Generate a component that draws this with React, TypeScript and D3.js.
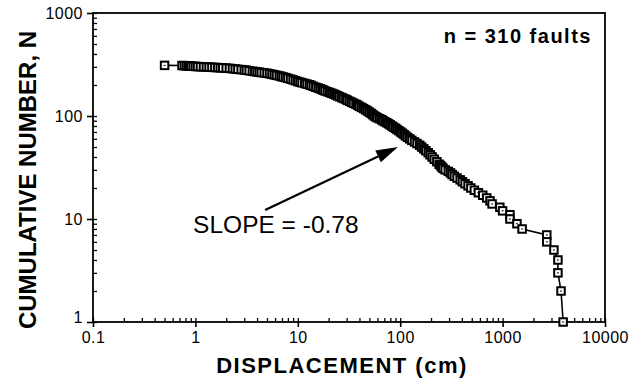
import * as d3 from "d3";
import { useEffect, useRef } from "react";

// cumulative frequency of fault displacement
const displacement = [
  0.5, 0.74, 0.78, 0.82, 0.86, 0.9, 0.95, 1.0, 1.05, 1.12, 1.2, 1.28, 1.36,
  1.45, 1.55, 1.65, 1.75, 1.85, 2.0, 2.15, 2.3, 2.45, 2.6, 2.8, 3.0, 3.15,
  3.35, 3.6, 3.8, 4.0, 4.2, 4.4, 4.7, 5.0, 5.3, 5.6, 5.9, 6.2, 6.6, 6.9, 7.2,
  7.6, 8.0, 8.5, 9.0, 9.5, 10, 10.5, 11, 11.7, 12.3, 13, 13.5, 14.2, 15, 15.8,
  16.5, 17.2, 17.8, 18.5, 19.5, 20.5, 21.5, 22.5, 23.5, 24.5, 25.5, 26.8, 28,
  29.5, 30.5, 32, 33.5, 35, 37, 38.5, 40, 42, 44, 46, 48, 50, 52, 54, 56, 58,
  60, 63, 66, 68, 71, 74, 77, 80, 83, 86, 90, 93, 97, 101, 105, 109, 113, 118,
  124, 130, 138, 146, 155, 162, 170, 178, 188, 196, 205, 215, 228, 240, 248,
  255, 262, 275, 295, 310, 322, 338, 359, 385, 405, 430, 460, 490, 530, 580,
  640, 700, 754, 790, 940, 1000, 1180, 1180, 1380, 1550, 2700, 2700, 3170,
  3470, 3470, 3720, 3900,
];
const cumulative = [
  310, 309, 308, 307, 306, 305, 304, 303, 302, 301, 300, 299, 298, 297, 296,
  295, 294, 293, 292, 290, 288, 286, 284, 282, 280, 278, 275, 272, 270, 268,
  266, 264, 262, 260, 257, 254, 251, 248, 245, 242, 239, 236, 232, 228, 224,
  220, 216, 213, 210, 207, 204, 201, 198, 194, 190, 187, 184, 181, 178, 175,
  172, 169, 166, 163, 160, 157, 154, 151, 148, 145, 142, 139, 136, 133, 130,
  127, 124, 121, 118, 115, 112, 109, 106, 103, 100, 98, 96, 94, 92, 90, 88, 86,
  84, 82, 80, 78, 76, 74, 72, 70, 68, 66, 64, 62, 60, 58, 56, 54, 52, 50, 48,
  46, 44, 42, 40, 38, 36, 34, 33, 32, 31, 30, 29, 28, 27, 26, 25, 24, 23, 22,
  21, 20, 19, 18, 17, 16, 15, 14, 13, 12, 11, 10, 9, 8, 7, 6, 5, 4, 3, 2, 1,
];

const xTicks = [0.1, 1, 10, 100, 1000, 10000];
const xTickLabels = ["0.1", "1", "10", "100", "1000", "10000"];
const yTicks = [1, 10, 100, 1000];
const yTickLabels = ["1", "10", "100", "1000"];

const xTitle = "DISPLACEMENT (cm)";
const yTitle = "CUMULATIVE NUMBER, N";
const countLabel = "n = 310 faults";
const slopeLabel = "SLOPE = -0.78";
// annotation anchors in data units [displacement, N]
const countAt = [7460, 512];
const slopeAt = [0.95, 7.3];
const arrowFrom = [4.8, 12.2];
const arrowTo = [95, 50];

const FONT = "'Liberation Sans', Arial, Helvetica, sans-serif";

export default function App() {
  const svgRef = useRef(null);

  useEffect(() => {
    const W = 639,
      H = 383;
    const margin = { top: 13, right: 34, bottom: 61, left: 93 },
      width = W - margin.left - margin.right,
      height = H - margin.top - margin.bottom;

    const svg = d3.select(svgRef.current).attr("width", W).attr("height", H);
    svg.selectAll("*").remove();

    const g = svg
      .append("g")
      .attr("transform", `translate(${margin.left},${margin.top})`);

    const x = d3.scaleLog().domain([0.1, 10000]).range([0, width]);
    const y = d3.scaleLog().domain([1, 1000]).range([height, 0]);

    const minorX = [];
    for (let e = -1; e < 4; e++)
      for (let k = 1; k < 10; k++) minorX.push(k * Math.pow(10, e));
    minorX.push(10000);
    const minorY = [];
    for (let e = 0; e < 3; e++)
      for (let k = 1; k < 10; k++) minorY.push(k * Math.pow(10, e));
    minorY.push(1000);

    // minor ticks (inside)
    g.append("g")
      .attr("transform", `translate(0,${height})`)
      .call(d3.axisBottom(x).tickValues(minorX).tickSize(-4).tickFormat(() => ""))
      .call((s) => s.select(".domain").remove())
      .selectAll("line")
      .attr("stroke-width", 1.3);
    g.append("g")
      .call(d3.axisLeft(y).tickValues(minorY).tickSize(-4).tickFormat(() => ""))
      .call((s) => s.select(".domain").remove())
      .selectAll("line")
      .attr("stroke-width", 1.3);

    // major ticks (outside) with labels
    const xa = g
      .append("g")
      .attr("transform", `translate(0,${height})`)
      .call(
        d3
          .axisBottom(x)
          .tickValues(xTicks)
          .tickSize(5)
          .tickPadding(5)
          .tickFormat((d, i) => xTickLabels[i])
      );
    xa.select(".domain").remove();
    xa.selectAll("line").attr("stroke-width", 1.6);
    xa.selectAll("text")
      .attr("font-family", FONT)
      .attr("font-size", 16)
      .attr("letter-spacing", 0.5)
      .attr("fill", "#000");

    const ya = g.append("g").call(
      d3
        .axisLeft(y)
        .tickValues(yTicks)
        .tickSize(6)
        .tickPadding(4)
        .tickFormat((d, i) => yTickLabels[i])
    );
    ya.select(".domain").remove();
    ya.selectAll("line").attr("stroke-width", 1.6);
    ya.selectAll("text")
      .attr("font-family", FONT)
      .attr("font-size", 16)
      .attr("letter-spacing", 0.5)
      .attr("fill", "#000")
      .attr("dy", (d) => (d === 1 ? "0.05em" : "0.32em"));

    // frame
    g.append("rect")
      .attr("width", width)
      .attr("height", height)
      .attr("fill", "none")
      .attr("stroke", "#000")
      .attr("stroke-width", 1.8);

    // data
    const pts = displacement.map((d, i) => [d, cumulative[i]]);
    g.append("path")
      .datum(pts)
      .attr("fill", "none")
      .attr("stroke", "#000")
      .attr("stroke-width", 1.6)
      .attr(
        "d",
        d3
          .line()
          .x((d) => x(d[0]))
          .y((d) => y(d[1]))
      );

    const s = 7.5;
    const mk = g
      .append("g")
      .selectAll("g")
      .data(pts)
      .enter()
      .append("g")
      .attr("transform", (d) => `translate(${x(d[0])},${y(d[1])})`);
    mk.append("rect")
      .attr("x", -s / 2)
      .attr("y", -s / 2)
      .attr("width", s)
      .attr("height", s)
      .attr("fill", "#fff")
      .attr("stroke", "#000")
      .attr("stroke-width", 2);
    mk.append("rect")
      .attr("x", -1)
      .attr("y", -0.5)
      .attr("width", 2)
      .attr("height", 1)
      .attr("fill", "#000");

    // arrow
    const x0 = x(arrowFrom[0]),
      y0 = y(arrowFrom[1]),
      x1 = x(arrowTo[0]),
      y1 = y(arrowTo[1]);
    const ang = Math.atan2(y1 - y0, x1 - x0);
    const hl = 22,
      hw = 6.5;
    const bx = x1 - hl * Math.cos(ang),
      by = y1 - hl * Math.sin(ang);
    g.append("line")
      .attr("x1", x0)
      .attr("y1", y0)
      .attr("x2", bx)
      .attr("y2", by)
      .attr("stroke", "#000")
      .attr("stroke-width", 2.2);
    g.append("path")
      .attr(
        "d",
        `M${x1},${y1}L${bx - hw * Math.sin(ang)},${by + hw * Math.cos(ang)}L${
          bx + hw * Math.sin(ang)
        },${by - hw * Math.cos(ang)}Z`
      )
      .attr("fill", "#000");

    g.append("text")
      .attr("x", x(slopeAt[0]))
      .attr("y", y(slopeAt[1]))
      .attr("font-family", FONT)
      .attr("font-size", 24.5)
      .attr("fill", "#000")
      .text(slopeLabel);

    g.append("text")
      .attr("x", x(countAt[0]))
      .attr("y", y(countAt[1]))
      .attr("text-anchor", "end")
      .attr("font-family", FONT)
      .attr("font-size", 20)
      .attr("font-weight", "bold")
      .attr("letter-spacing", 1.5)
      .attr("fill", "#000")
      .text(countLabel);

    // axis titles
    svg
      .append("text")
      .attr("x", 342)
      .attr("y", 373)
      .attr("text-anchor", "middle")
      .attr("font-family", FONT)
      .attr("font-size", 22)
      .attr("font-weight", "bold")
      .attr("letter-spacing", 1.5)
      .attr("fill", "#000")
      .text(xTitle);

    svg
      .append("text")
      .attr("transform", `translate(36,180) rotate(-90)`)
      .attr("text-anchor", "middle")
      .attr("font-family", FONT)
      .attr("font-size", 24)
      .attr("font-weight", "bold")
      .attr("fill", "#000")
      .text(yTitle);

    return () => {
      d3.select(svgRef.current).selectAll("*").remove();
    };
  }, []);

  return (
    <div>
      <svg
        ref={svgRef}
        style={{ position: "absolute", left: 0, top: 0, display: "block", background: "#fff" }}
      />
    </div>
  );
}
